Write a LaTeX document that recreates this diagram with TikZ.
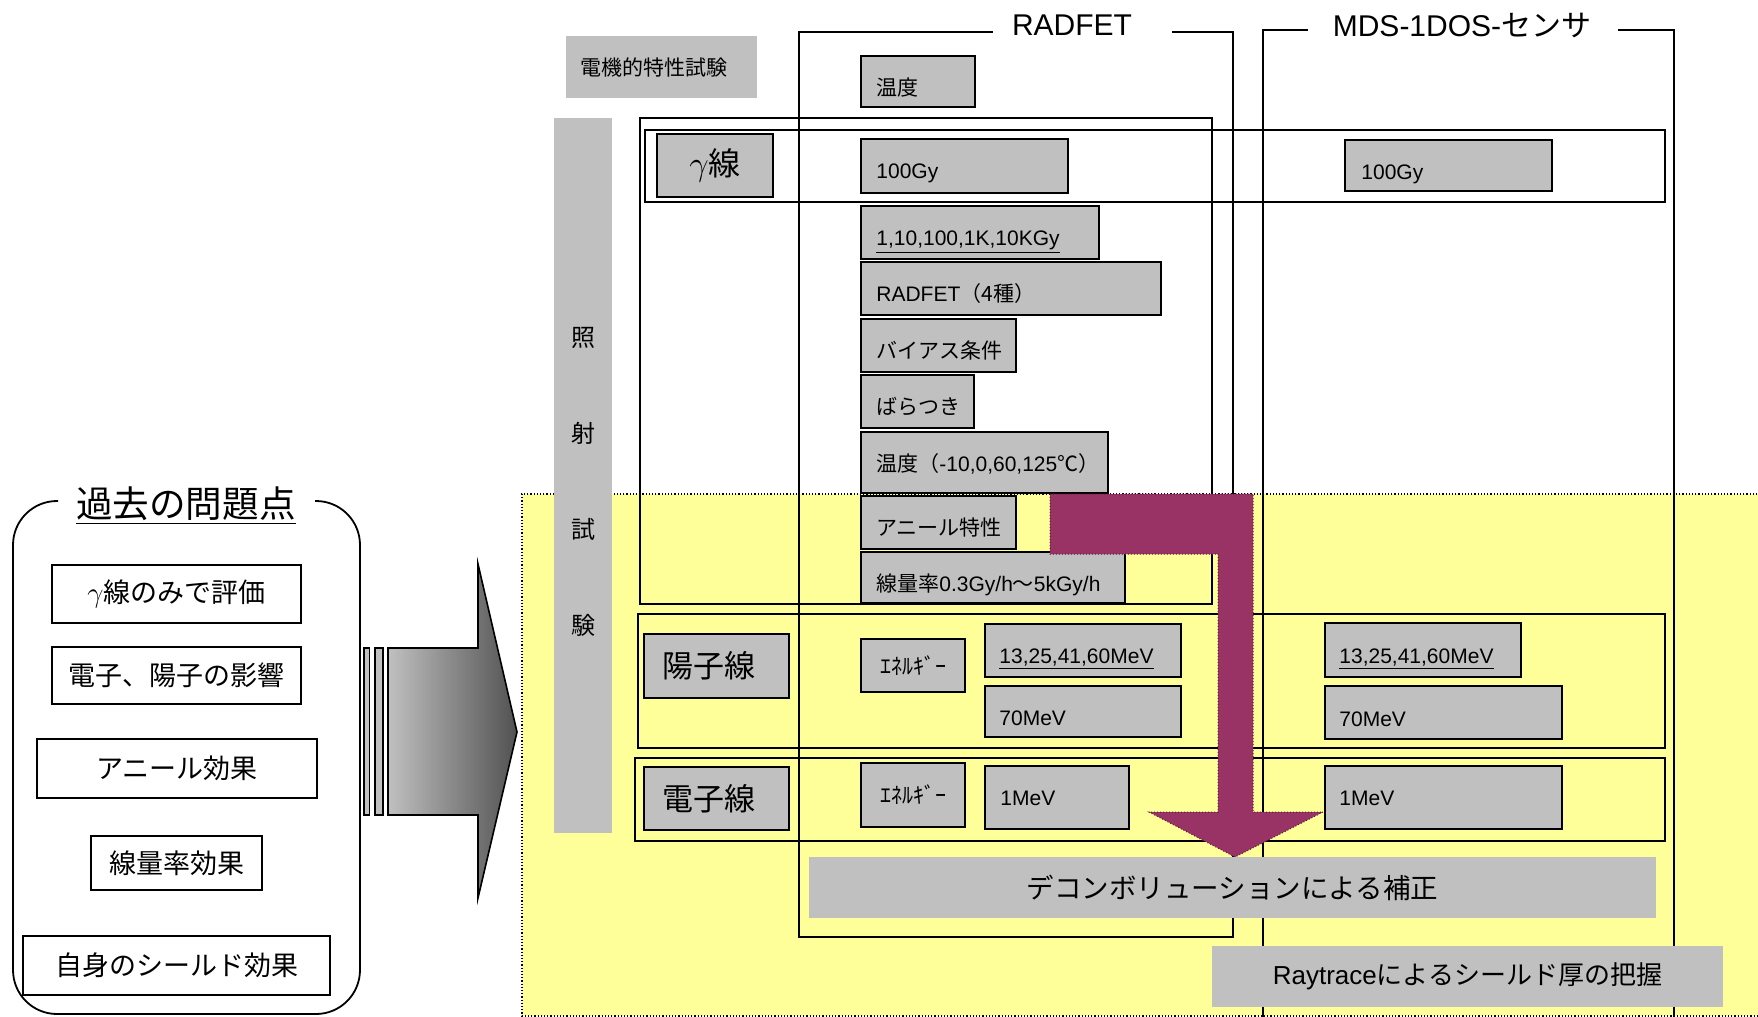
\documentclass[tikz,border=0pt]{standalone}
\usepackage{fontspec}
\setmainfont{Liberation Sans}
\newfontfamily\jp{Noto Sans CJK JP}
\definecolor{boxgray}{HTML}{C0C0C0}
\definecolor{ylw}{HTML}{FFFF99}
\definecolor{mag}{HTML}{993366}
% [style]{name}{x1}{y1}{x2}{y2}{text}
\newcommand\bx[7][]{\node[#1, minimum width={(#5-#3)*0.5pt}, minimum height={(#6-#4)*0.5pt}, inner sep=0pt, outer sep=0pt] (#2) at ({(#3+#5)/2},{(#4+#6)/2}) {#7};}
\begin{document}
\begin{tikzpicture}[x=0.5pt,y=-0.5pt,
  gbox/.style={draw=black, line width=0.9pt, fill=boxgray},
  wbox/.style={draw=black, line width=0.9pt, fill=white},
  pbox/.style={fill=boxgray},
  frm/.style={draw=black, line width=0.75pt},
  lt/.style={anchor=base west, inner sep=0pt, font=\fontsize{10.5}{12}\selectfont},
  lbig/.style={font={\jp\fontsize{13.5}{15}\selectfont}},
  hd/.style={font={\jp\fontsize{15.5}{17}\selectfont}},
  ttlf/.style={inner sep=0pt, font=\fontsize{15}{17}\selectfont}]
\useasboundingbox (0,0) rectangle (1758,1017);

% ---------- left panel ----------
\draw[line width=0.9pt, rounded corners=22pt] (58,501) -- (13,501) -- (13,1014) -- (360,1014) -- (360,501) -- (315,501);
\node[inner sep=0pt, font={\jp\fontsize{18.3}{20}\selectfont}] (ttl) at (186,506) {\underline{過去の問題点}};
\bx[wbox, lbig]{l1}{52}{565}{301}{623}{$\gamma$線のみで評価}
\bx[wbox, lbig]{l2}{52}{647}{301}{704}{電子、陽子の影響}
\bx[wbox, lbig]{l3}{37}{739}{317}{798}{アニール効果}
\bx[wbox, lbig]{l4}{91}{836}{262}{890}{線量率効果}
\bx[wbox, lbig]{l5}{23}{936}{330}{995}{自身のシールド効果}

% big grey arrow
\draw[line width=0.8pt, fill=boxgray] (364,648) rectangle (369.5,815);
\draw[line width=0.8pt, fill=boxgray] (375,648) rectangle (383,815);
\shadedraw[left color=boxgray, right color=black!68, draw=black, line width=0.8pt]
  (388,648) -- (478,648) -- (478,564) -- (517,732) -- (478,898) -- (478,815) -- (388,815) -- cycle;

% ---------- right side ----------
\fill[ylw] (522,494) rectangle (1770,1016);
\draw[densely dotted, line width=0.6pt] (1770,494) -- (522,494) -- (522,1016) -- (1770,1016);

\bx[pbox]{elec}{566}{36}{757}{98}{}
\node[anchor=west, inner sep=0pt, font={\jp\fontsize{10.5}{12}\selectfont}] (elect) at (580,67) {電機的特性試験};

\bx[pbox]{irr}{554}{118}{612}{833}{}
\node[align=center, inner sep=0pt, font={\jp\fontsize{12}{48}\selectfont}] (irrt) at (583,482) {照\\射\\試\\験};

% RADFET frame
\draw[frm] (993,32) -- (799,32) -- (799,937) -- (1233,937) -- (1233,32) -- (1172,32);
\node[ttlf] (radt) at (1072,25) {RADFET};
% MDS frame
\draw[frm] (1308,30) -- (1263,30) -- (1263,1017);
\draw[frm] (1618,30) -- (1674,30) -- (1674,1017);
\node[ttlf] (mdst) at (1462,26) {MDS-1DOS-{\jp センサ}};

% group frames
\draw[frm, line width=0.9pt] (640,118) rectangle (1212,604);
\draw[frm, line width=0.9pt] (645,130) rectangle (1665,202);
\draw[frm, line width=0.9pt] (638,614) rectangle (1665,748);
\draw[frm, line width=0.9pt] (635,758) rectangle (1665,841);

% headers
\bx[gbox, font=\fontsize{16}{18}\selectfont]{gam}{657}{134}{773}{197}{$\gamma${\jp 線}}
\bx[gbox, hd]{pro}{644}{634}{789}{698}{陽子線\hspace*{8pt}}
\bx[gbox, hd]{ele}{644}{767}{789}{830}{電子線\hspace*{8pt}}
\bx[gbox, font={\jp\fontsize{11}{12}\selectfont}]{en1}{861}{639}{965}{692}{ｴﾈﾙｷﾞｰ}
\bx[gbox, font={\jp\fontsize{11}{12}\selectfont}]{en2}{861}{763}{965}{827}{ｴﾈﾙｷﾞｰ}

% RADFET column boxes
\bx[gbox]{b1}{861}{56}{975}{107}{}
\node[lt] (b1t) at (876,95) {\jp 温度};
\bx[gbox]{b2}{861}{139}{1068}{193}{}
\node[lt] (b2t) at (876,178) {100Gy};
\bx[gbox]{b3}{861}{206}{1099}{259}{}
\node[lt] (b3t) at (876,245) {\underline{1,10,100,1K,10KGy}};
\bx[gbox]{b4}{861}{262}{1161}{315}{}
\node[lt] (b4t) at (876,301) {RADFET{\jp （4種）}};
\bx[gbox]{b5}{861}{319}{1016}{372}{}
\node[lt] (b5t) at (876,358) {\jp バイアス条件};
\bx[gbox]{b6}{861}{375}{974}{428}{}
\node[lt] (b6t) at (876,414) {\jp ばらつき};
\bx[gbox]{b7}{861}{432}{1108}{493}{}
\node[lt] (b7t) at (876,471) {{\jp 温度（}-10,0,60,125{\jp ℃）}};
\bx[gbox]{b8}{861}{496}{1016}{549}{}
\node[lt] (b8t) at (876,535) {\jp アニール特性};
\bx[gbox]{b9}{861}{552}{1125}{603}{}
\node[lt] (b9t) at (876,591) {{\jp 線量率}0.3Gy/h{\jp ～}5kGy/h};
\bx[gbox]{p1}{985}{624}{1181}{677}{}
\node[lt] (p1t) at (999,663) {\underline{13,25,41,60MeV}};
\bx[gbox]{p2}{985}{686}{1181}{737}{}
\node[lt] (p2t) at (999,725) {70MeV};
\bx[gbox]{e1}{985}{766}{1129}{829}{}
\node[lt] (e1t) at (1000,805) {1MeV};

% MDS column boxes
\bx[gbox]{m1}{1345}{140}{1552}{191}{}
\node[lt] (m1t) at (1361,179) {100Gy};
\bx[gbox]{m2}{1325}{623}{1521}{677}{}
\node[lt] (m2t) at (1339,663) {\underline{13,25,41,60MeV}};
\bx[gbox]{m3}{1325}{686}{1562}{739}{}
\node[lt] (m3t) at (1339,726) {70MeV};
\bx[gbox]{m4}{1325}{766}{1562}{829}{}
\node[lt] (m4t) at (1339,805) {1MeV};

% magenta arrow
\filldraw[fill=mag, draw=mag!55!black, densely dotted, line width=0.5pt]
  (1050,494) -- (1253,494) -- (1253,812) -- (1323,812) -- (1235,857) -- (1149,812) -- (1218,812) -- (1218,554) -- (1050,554) -- cycle;

% result boxes
\bx[pbox, font={\jp\fontsize{13.75}{16}\selectfont}]{dec}{809}{857}{1656}{918}{デコンボリューションによる補正}
\bx[pbox, font=\fontsize{13}{15}\selectfont]{ray}{1212}{946}{1723}{1007}{Raytrace{\jp によるシールド厚の把握}}
\end{tikzpicture}
\end{document}
